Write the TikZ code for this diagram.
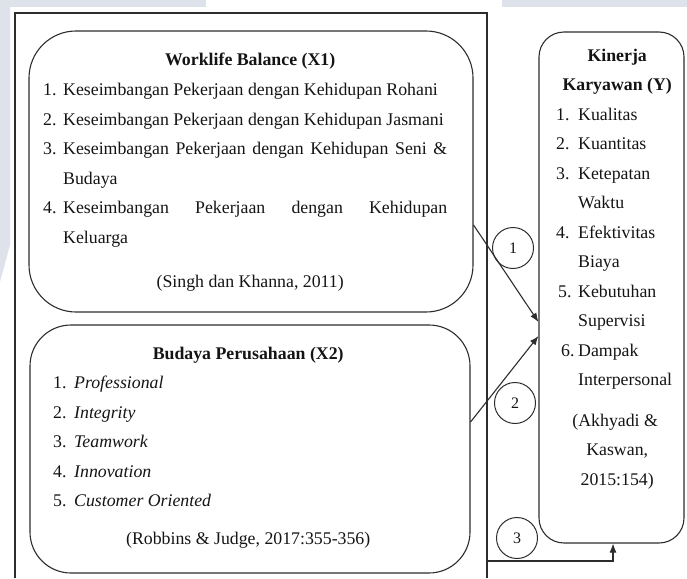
\documentclass[tikz,border=0pt]{standalone}
\usepackage{fontspec}
\setmainfont{Liberation Serif}
\usetikzlibrary{arrows.meta,calc}
\definecolor{wm}{RGB}{222,226,235}
\definecolor{ln}{RGB}{45,45,45}
\definecolor{tx}{RGB}{20,20,20}
\newcommand{\numA}[3]{\noindent\hangindent=#1\hangafter=1\makebox[#1][l]{#2}#3\par}
\tikzset{
  boxshape/.style={draw=ln, line width=1.1pt, rectangle, inner sep=0pt},
  txt/.style={anchor=base west, inner sep=0pt, text=tx},
  circ/.style={draw=ln, line width=1pt, circle, minimum size=41pt, inner sep=0pt, font=\fontsize{16pt}{18pt}\selectfont, text=tx},
  arr/.style={draw=ln, line width=1.1pt, -{Latex[length=9pt,width=7pt]}},
  frameline/.style={draw=ln, line width=1.1pt}
}
\begin{document}
\begin{tikzpicture}[x=1pt,y=-1pt]
\useasboundingbox (0,0) rectangle (687,578);
% watermark fragments
\fill[wm] (0,0) rectangle (206,7);
\fill[wm] (0,0) -- (10,0) -- (10,245) -- (0,282) -- cycle;
\fill[wm] (502,0) rectangle (687,7);
% outer frame
\draw[frameline] (15,578) -- (15,13) -- (487,13) -- (487,578);
% boxes
\node[boxshape, minimum width=444pt, minimum height=281pt, rounded corners=47pt] (x1) at (251,171.5) {};
\node[boxshape, minimum width=440pt, minimum height=248pt, rounded corners=41pt] (x2) at (250,449) {};
\node[boxshape, minimum width=145pt, minimum height=511pt, rounded corners=25pt] (ybox) at (611.5,287.5) {};
% texts
\node[txt] (x1text) at (43,66) {\begin{minipage}[t]{404pt}\fontsize{17.8pt}{29.5pt}\selectfont\hyphenpenalty=10000
{\centering\hspace*{10pt}\textbf{Worklife Balance (X1)}\par}
\numA{20pt}{1.}{Keseimbangan Pekerjaan dengan Kehidupan Rohani}
\numA{20pt}{2.}{Keseimbangan Pekerjaan dengan Kehidupan Jasmani}
\numA{20pt}{3.}{Keseimbangan Pekerjaan dengan Kehidupan Seni \&\linebreak Budaya}
\numA{20pt}{4.}{Keseimbangan Pekerjaan dengan Kehidupan\linebreak Keluarga}
\vspace{15pt}
{\centering\hspace*{10pt}(Singh dan Khanna, 2011)\par}
\end{minipage}};
\node[txt] (x2text) at (53,359) {\begin{minipage}[t]{390pt}\fontsize{17.8pt}{29.5pt}\selectfont
{\centering\textbf{Budaya Perusahaan (X2)}\par}
\numA{21pt}{1.}{\textit{Professional}}
\numA{21pt}{2.}{\textit{Integrity}}
\numA{21pt}{3.}{\textit{Teamwork}}
\numA{21pt}{4.}{\textit{Innovation}}
\numA{21pt}{5.}{\textit{Customer Oriented}}
\vspace{8pt}
{\centering(Robbins \& Judge, 2017:355-356)\par}
\end{minipage}};
\node[txt] (ytext) at (556,61) {\begin{minipage}[t]{122pt}\fontsize{17.8pt}{29.5pt}\selectfont\raggedright
{\centering\textbf{Kinerja}\\\textbf{Karyawan (Y)}\par}
\numA{22pt}{1.}{Kualitas}
\numA{22pt}{2.}{Kuantitas}
\numA{22pt}{3.}{Ketepatan\newline Waktu}
\numA{22pt}{4.}{Efektivitas\newline Biaya}
\numA{22pt}{\hspace*{2pt}5.}{Kebutuhan\newline Supervisi}
\numA{22pt}{\hspace*{5pt}6.}{Dampak\newline Interpersonal}
\vspace{11pt}
{\centering\hspace*{-4pt}(Akhyadi \&\\Kaswan,\\2015:154)\par}
\end{minipage}};
% circles
\node[circ] (n1) at (513,248) {1};
\node[circ] (n2) at (515,403) {2};
\node[circ] (n3) at (517,538) {3};
% connectors
\coordinate (h225) at (0,225);
\coordinate (h422) at (0,422);
\coordinate (h322) at (0,322);
\coordinate (h336) at (0,336);
\coordinate (c3) at (487,561);
\coordinate (v613) at (613,0);
\draw[arr] (x1.east |- h225) -- (ybox.west |- h322);
\draw[arr] (x2.east |- h422) -- (ybox.west |- h336);
\draw[arr] (c3) -| (ybox.south -| v613);
\end{tikzpicture}
\end{document}
